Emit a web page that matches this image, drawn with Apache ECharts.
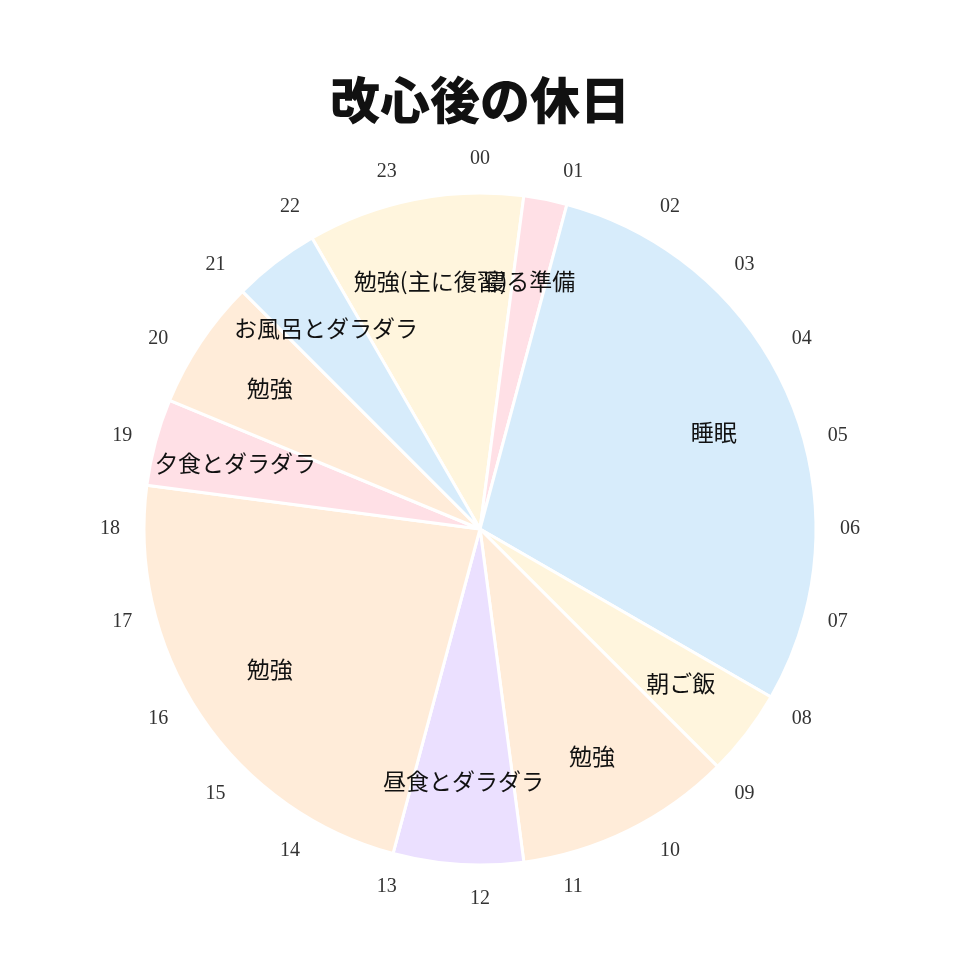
<!DOCTYPE html>
<html>
<head>
<meta charset="utf-8">
<script src="https://cdn.jsdelivr.net/npm/echarts@6/dist/echarts.min.js"></script>
<style>
html, body { margin: 0; padding: 0; background: #fff; }
#chart { width: 960px; height: 960px; }
</style>
</head>
<body>
<div id="chart"></div>
<script>
// 22:00から時計回りの予定（時間）
var activities = ['勉強(主に復習)', '寝る準備', '睡眠', '朝ご飯', '勉強', '昼食とダラダラ', '勉強', '夕食とダラダラ', '勉強', 'お風呂とダラダラ'];
var hours = [2.5, 0.5, 7, 1, 2.5, 1.5, 5.5, 1, 1.5, 1];
var colors = ['#fff5dd', '#ffe0e6', '#d7ecfb', '#fff5dd', '#ffecd9', '#ebe0ff', '#ffecd9', '#ffe0e6', '#ffecd9', '#d7ecfb'];
var startHour = 22;
var hourTicks = ['00', '01', '02', '03', '04', '05', '06', '07', '08', '09', '10', '11',
                 '12', '13', '14', '15', '16', '17', '18', '19', '20', '21', '22', '23'];

var center = [480, 529];
var radius = 336;
var labelRadius = 0.753; // ラベルは半径の75%くらいの位置
var startAngle = 90 + (24 - startHour) * 15;

var chart = echarts.init(document.getElementById('chart'));

var sliceData = activities.map(function (name, i) {
    return { name: name, value: hours[i], itemStyle: { color: colors[i] } };
});

// 各区間の中央の時刻にラベルを置く
var labelData = [];
var acc = startHour;
activities.forEach(function (name, i) {
    var mid = (acc + hours[i] / 2) % 24;
    labelData.push({ name: name, value: [labelRadius, mid] });
    acc += hours[i];
});

var option = {
    animation: false,
    title: {
        text: '改心後の休日',
        left: 'center',
        top: 70,
        textStyle: {
            fontFamily: 'Noto Sans CJK JP',
            fontWeight: 900,
            fontSize: 50,
            color: '#111'
        }
    },
    polar: {
        center: center,
        radius: radius
    },
    angleAxis: {
        type: 'value',
        min: 0,
        max: 24,
        interval: 1,
        startAngle: 90,
        clockwise: true,
        axisLine: { show: false },
        axisTick: { show: false },
        splitLine: { show: false },
        axisLabel: {
            margin: 24,
            align: 'center',
            verticalAlign: 'middle',
            fontFamily: 'Liberation Serif',
            fontSize: 20,
            color: '#333',
            formatter: function (v) {
                return v >= 24 ? '' : hourTicks[v];
            }
        }
    },
    radiusAxis: {
        type: 'value',
        min: 0,
        max: 1,
        show: false
    },
    series: [{
        type: 'pie',
        center: center,
        radius: radius,
        startAngle: startAngle,
        clockwise: true,
        label: { show: false },
        labelLine: { show: false },
        itemStyle: { borderColor: '#fff', borderWidth: 3 },
        emphasis: { disabled: true },
        data: sliceData
    }, {
        type: 'scatter',
        coordinateSystem: 'polar',
        symbolSize: 0,
        silent: true,
        z: 5,
        itemStyle: { opacity: 1 },
        label: {
            show: true,
            position: 'inside',
            formatter: '{b}',
            fontFamily: 'Noto Sans CJK JP',
            fontSize: 23,
            color: '#111'
        },
        data: labelData
    }]
};

chart.setOption(option);
</script>
</body>
</html>
